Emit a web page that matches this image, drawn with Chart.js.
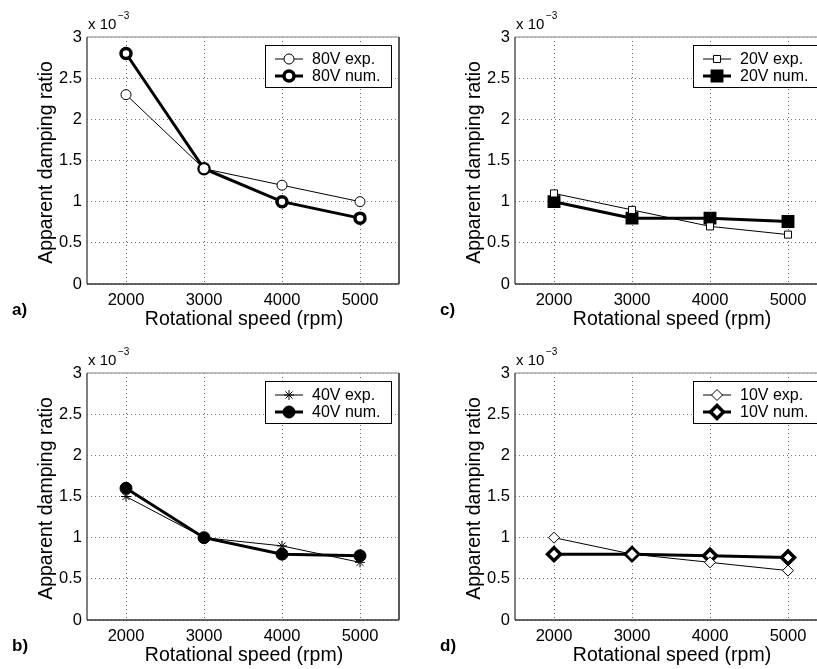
<!DOCTYPE html>
<html>
<head>
<meta charset="utf-8">
<script src="https://cdn.jsdelivr.net/npm/chart.js"></script>
<style>
  html, body { margin: 0; padding: 0; background: #fff; overflow: hidden; width: 817px; height: 669px; }
  canvas { position: absolute; }
</style>
</head>
<body>
<canvas id="pa" width="428" height="336" style="left:0;top:0"></canvas>
<canvas id="pc" width="428" height="336" style="left:428px;top:0"></canvas>
<canvas id="pb" width="428" height="336" style="left:0;top:336px"></canvas>
<canvas id="pd" width="428" height="336" style="left:428px;top:336px"></canvas>
<script>
// rotational speed (rpm)
const speeds = [2000, 3000, 4000, 5000];
const xTicks = [2000, 3000, 4000, 5000];
const yTicks = [0, 0.5, 1, 1.5, 2, 2.5, 3];

// apparent damping ratio, in units of 1e-3
const exp80 = [2.3, 1.4, 1.2, 1.0];
const num80 = [2.8, 1.4, 1.0, 0.8];
const exp40 = [1.5, 1.0, 0.9, 0.7];
const num40 = [1.6, 1.0, 0.8, 0.78];
const exp20 = [1.1, 0.9, 0.7, 0.6];
const num20 = [1.0, 0.8, 0.8, 0.76];
const exp10 = [1.0, 0.8, 0.7, 0.6];
const num10 = [0.8, 0.8, 0.78, 0.76];

const FONT = '"Liberation Sans", Arial, Helvetica, sans-serif';

// frame, legend and the extra labels, drawn around the chart area
const decor = {
  id: 'decor',
  beforeDatasetsDraw(chart) {
    const { ctx } = chart;
    const { left, top, right, bottom } = chart.chartArea;
    ctx.save();
    ctx.setLineDash([]);
    ctx.lineWidth = 1.5;
    ctx.strokeStyle = '#aaa';
    ctx.beginPath(); ctx.moveTo(left, top); ctx.lineTo(right, top); ctx.stroke();
    ctx.strokeStyle = '#222';
    ctx.beginPath(); ctx.moveTo(right, top); ctx.lineTo(right, bottom); ctx.stroke();
    ctx.strokeStyle = '#555';
    ctx.beginPath(); ctx.moveTo(left, top); ctx.lineTo(left, bottom); ctx.stroke();
    ctx.strokeStyle = '#333';
    ctx.beginPath(); ctx.moveTo(left, bottom); ctx.lineTo(right, bottom); ctx.stroke();
    ctx.restore();
  },
  afterDatasetsDraw(chart) {
    const { ctx } = chart;
    const { top, right } = chart.chartArea;
    ctx.save();
    ctx.setLineDash([]);
    ctx.fillStyle = '#fff';
    ctx.fillRect(right - 134, top + 8, 127, 43);
    ctx.strokeStyle = '#000';
    ctx.lineWidth = 1;
    ctx.strokeRect(right - 133.5, top + 8.5, 126, 42);
    chart.data.datasets.forEach((ds, i) => {
      const y = top + 22 + i * 17;
      ctx.strokeStyle = ds.borderColor;
      ctx.lineWidth = ds.borderWidth;
      ctx.beginPath(); ctx.moveTo(right - 124, y); ctx.lineTo(right - 96, y); ctx.stroke();
      ctx.fillStyle = ds.pointBackgroundColor;
      ctx.strokeStyle = ds.pointBorderColor;
      ctx.lineWidth = ds.pointBorderWidth;
      Chart.helpers.drawPoint(ctx, {
        pointStyle: ds.pointStyle, rotation: 0,
        radius: ds.pointRadius, borderWidth: ds.pointBorderWidth
      }, right - 110, y);
      ctx.fillStyle = '#000';
      ctx.font = '16px ' + FONT;
      ctx.textBaseline = 'middle';
      ctx.textAlign = 'left';
      ctx.fillText(ds.label, right - 87, y + 1);
    });
    ctx.restore();
  },
  afterDraw(chart, args, opts) {
    const { ctx } = chart;
    const { left, top, right, bottom } = chart.chartArea;
    ctx.save();
    ctx.fillStyle = '#000';
    ctx.textBaseline = 'middle';
    // axis titles
    ctx.font = '19.5px ' + FONT;
    ctx.textAlign = 'center';
    ctx.fillText('Rotational speed (rpm)', (left + right) / 2 + 1, bottom + 36);
    ctx.save();
    ctx.translate(left - 40, (top + bottom) / 2 + 2);
    ctx.rotate(-Math.PI / 2);
    ctx.fillText('Apparent damping ratio', 0, 0);
    ctx.restore();
    // exponent
    ctx.textAlign = 'left';
    ctx.font = '15px ' + FONT;
    ctx.fillText('x 10', left + 1, top - 12);
    ctx.font = '10px ' + FONT;
    ctx.fillText('\u22123', left + 31, top - 21);
    // panel letter
    ctx.font = 'bold 17px ' + FONT;
    ctx.fillText(opts.letter, left - 75, bottom + 26);
    ctx.restore();
  }
};

function makeChart(id, letter, expLabel, expData, numLabel, numData, expStyle, numStyle) {
  const ctx = document.getElementById(id).getContext('2d');
  return new Chart(ctx, {
    type: 'line',
    data: {
      datasets: [
        {
          label: expLabel,
          data: speeds.map((s, i) => ({ x: s, y: expData[i] })),
          borderColor: '#000',
          borderWidth: 1,
          pointStyle: expStyle.style,
          pointRadius: expStyle.radius,
          pointBorderWidth: 1,
          pointBorderColor: '#000',
          pointBackgroundColor: '#fff',
          tension: 0
        },
        {
          label: numLabel,
          data: speeds.map((s, i) => ({ x: s, y: numData[i] })),
          borderColor: '#000',
          borderWidth: 3,
          pointStyle: numStyle.style,
          pointRadius: numStyle.radius,
          pointBorderWidth: numStyle.border,
          pointBorderColor: '#000',
          pointBackgroundColor: numStyle.fill,
          tension: 0
        }
      ]
    },
    options: {
      responsive: false,
      animation: false,
      events: [],
      layout: { padding: { left: 0, top: 37, right: 29, bottom: 0 } },
      plugins: {
        legend: { display: false },
        tooltip: { enabled: false },
        decor: { letter: letter }
      },
      scales: {
        x: {
          type: 'linear',
          min: 1500,
          max: 5500,
          afterBuildTicks: scale => { scale.ticks = xTicks.map(v => ({ value: v })); },
          afterFit: scale => { scale.height = 52; },
          grid: { color: '#666', lineWidth: 1, drawTicks: false },
          border: { display: false, dash: [1, 3] },
          ticks: {
            color: '#000', padding: 7, maxRotation: 0,
            font: { family: FONT, size: 16.5 },
            callback: v => String(v)
          }
        },
        y: {
          min: 0,
          max: 3,
          afterBuildTicks: scale => { scale.ticks = yTicks.map(v => ({ value: v })); },
          afterFit: scale => { scale.width = 87; },
          grid: { color: '#777', lineWidth: 1, drawTicks: false },
          border: { display: false, dash: [1, 3] },
          ticks: {
            color: '#000', padding: 5,
            font: { family: FONT, size: 16.5 },
            callback: v => String(v)
          }
        }
      }
    },
    plugins: [decor]
  });
}

makeChart('pa', 'a)', '80V exp.', exp80, '80V num.', num80,
  { style: 'circle', radius: 5 }, { style: 'circle', radius: 5, border: 3.5, fill: '#fff' });
makeChart('pb', 'b)', '40V exp.', exp40, '40V num.', num40,
  { style: 'star', radius: 5 }, { style: 'circle', radius: 6, border: 1, fill: '#000' });
makeChart('pc', 'c)', '20V exp.', exp20, '20V num.', num20,
  { style: 'rect', radius: 5 }, { style: 'rect', radius: 7, border: 3, fill: '#000' });
makeChart('pd', 'd)', '10V exp.', exp10, '10V num.', num10,
  { style: 'rectRot', radius: 5.5 }, { style: 'rectRot', radius: 6.5, border: 3.5, fill: '#fff' });
</script>
</body>
</html>
